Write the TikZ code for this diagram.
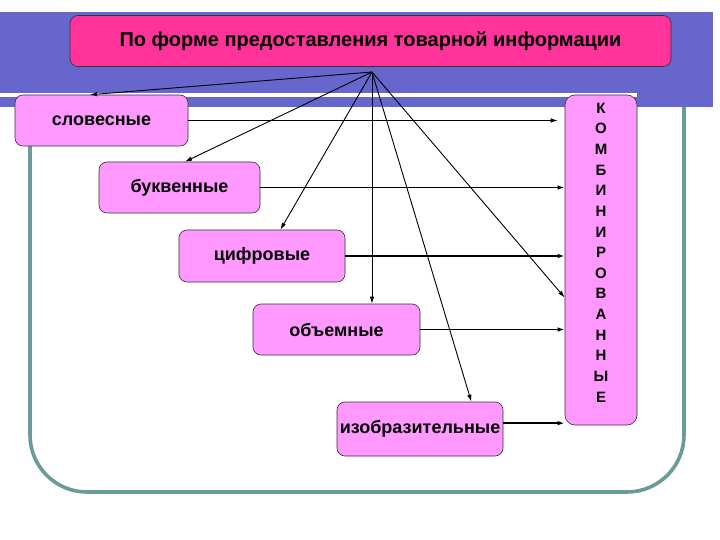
\documentclass[tikz,border=0pt]{standalone}
\usepackage{fontspec}
\setmainfont{Liberation Sans}
\usetikzlibrary{arrows.meta}

\definecolor{bandblue}{RGB}{102,102,204}
\definecolor{headpink}{RGB}{255,51,153}
\definecolor{boxpink}{RGB}{255,153,255}
\definecolor{frameteal}{RGB}{108,154,152}

\begin{document}
\begin{tikzpicture}[x=1pt,y=-1pt,
    kind/.style={draw=black!80, fill=boxpink, rounded corners=8pt, line width=0.6pt,
        minimum width=#1, minimum height=51pt, inner sep=0pt, font=\bfseries\fontsize{18}{21}\selectfont},
    kind/.default=167pt,
    ray/.style={-{Latex[length=7pt,width=4.5pt]}, line width=0.9pt},
    link/.style={-{Latex[length=7pt,width=4.5pt]}, line width=1.8pt}]

\useasboundingbox (0,0) rectangle (720,540);

% The frame behind everything
\draw[frameteal, line width=3.6pt, rounded corners=57pt]
    (30,100) -- (30,492) -- (684,492) -- (684,100);

% The blue band with its white stripe
\fill[bandblue] (0,12) rectangle (713,107);
\fill[white] (0,93) rectangle (637,97);

% The header
\node[draw=black!80, fill=headpink, rounded corners=8pt, line width=0.6pt,
    minimum width=601pt, minimum height=51pt, inner sep=0pt,
    font=\bfseries\fontsize{20}{24}\selectfont] (head) at (370.5,41)
    {По форме предоставления товарной информации};
\coordinate (apex) at (372,72);

% The kinds
\node[kind=173pt] (slov) at (101.5,120.5) {словесные};
\node[kind=161pt] (bukv) at (179.5,187.5) {буквенные};
\node[kind=166pt, minimum height=52pt] (cifr) at (262,256) {цифровые};
\node[kind] (obem) at (336.5,329.5) {объемные};
\node[kind=166pt, minimum height=54pt] (izob) at (420,429) {изобразительные};

% The combined box, one letter to a line
\node[draw=black!80, fill=boxpink, rounded corners=10pt, line width=0.6pt,
    minimum width=72pt, minimum height=330pt, inner sep=0pt] (komb) at (601,260) {};
\foreach \letter [count=\i from 0] in {К,О,М,Б,И,Н,И,Р,О,В,А,Н,Н,Ы,Е}{
    \node[font=\bfseries\fontsize{15}{17}\selectfont, inner sep=0pt] (k\i)
        at (601,108+20.64*\i) {\letter};
}

% Rays from the header
\draw[ray] (apex) -- (slov.114);
\draw[ray] (apex) -- (bukv.78);
\draw[ray] (apex) -- (cifr.55);
\draw[ray] (apex) -- (apex |- obem.north);
\draw[ray] (apex) -- (izob.28);
\draw[ray] (apex) -- (komb.226);

% Links to the combined box
\draw[ray, shorten >=7pt] (slov.east) -- (slov.east -| komb.west);
\draw[link] (bukv.east) -- (bukv.east -| komb.west);
\draw[link] (cifr.east) -- (cifr.east -| komb.west);
\draw[link] (obem.east) -- (obem.east -| komb.west);
\draw[link] (izob.4) -- (izob.4 -| komb.west);

\end{tikzpicture}
\end{document}
